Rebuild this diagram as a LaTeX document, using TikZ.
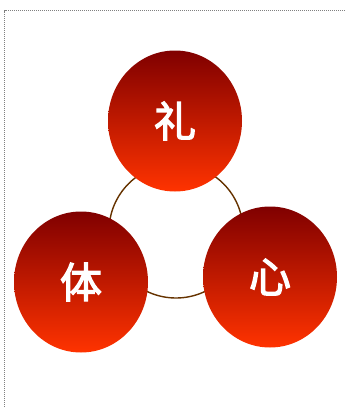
\documentclass[tikz,border=0pt]{standalone}
\usepackage{fontspec}
\newfontfamily\cjk{Noto Sans CJK SC}[FakeBold=3]
\usetikzlibrary{shapes.geometric}
\definecolor{ballTop}{HTML}{800000}
\definecolor{ballBot}{HTML}{FF3300}
\definecolor{ringBrown}{HTML}{663300}

\begin{document}
\begin{tikzpicture}[x=1pt, y=-1pt,
		ball/.style={ellipse, minimum width=134pt, minimum height=141pt, inner sep=0pt,
			top color=ballTop, bottom color=ballBot, text=white,
			font=\cjk\fontsize{42}{42}\selectfont},
		ring/.style={draw=ringBrown, line width=1.4pt}]

		% page frame
		\useasboundingbox (0,0) rectangle (345,407);
		\draw[gray, dash pattern=on 1pt off 1pt, line width=0.8pt] (4.5,407) -- (4.5,10.5) -- (345,10.5);

		% ring behind the balls
		\coordinate (mid) at (176,231);
		\draw[ring] (mid) circle (67);

		% the three balls
		\node[ball] (li)  at (175,121) {礼};
		\node[ball] (ti)  at (81,282)  {体};
		\node[ball] (xin) at (270,277) {心};

	\end{tikzpicture}
\end{document}
